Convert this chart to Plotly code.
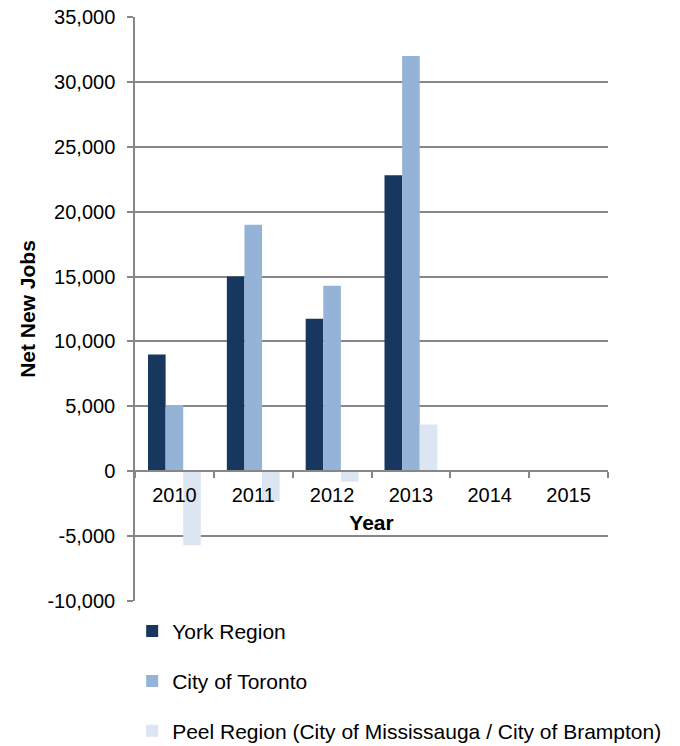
import plotly.graph_objects as go

years = ["2010", "2011", "2012", "2013", "2014", "2015"]
york = [9000, 15000, 11750, 22800, None, None]
toronto = [5100, 19000, 14300, 32000, None, None]
peel = [-5700, -2300, -800, 3600, None, None]

y_tickvals = [-10000, -5000, 0, 5000, 10000, 15000, 20000, 25000, 30000, 35000]
y_ticktext = ["-10,000", "-5,000", "0", "5,000", "10,000", "15,000", "20,000", "25,000", "30,000", "35,000"]

series = [
    ("York Region", york, "#17375E"),
    ("City of Toronto", toronto, "#95B3D7"),
    ("Peel Region (City of Mississauga / City of Brampton)", peel, "#DCE6F2"),
]

FONT = "Liberation Sans, Arial, sans-serif"
GRID = "#878787"

fig = go.Figure()
for name, vals, color in series:
    fig.add_trace(go.Bar(
        x=years, y=vals, name=name, marker=dict(color=color, line=dict(width=0)),
        legendgroup=name,
    ))

ymin, ymax = -10000, 35000
zero_pos = (0 - ymin) / (ymax - ymin)

fig.update_layout(
    width=680, height=746,
    margin=dict(l=135, r=72, t=17, b=145, autoexpand=False),
    paper_bgcolor="white", plot_bgcolor="white",
    font=dict(family=FONT, size=20, color="black"),
    barmode="group", bargap=0.33, bargroupgap=0,
    showlegend=True,
    legend=dict(
        orientation="v", x=-0.006, xanchor="left", y=-0.017, yanchor="top",
        traceorder="grouped", tracegroupgap=19.5,
        font=dict(family=FONT, size=21, color="black"),
        bgcolor="rgba(0,0,0,0)",
    ),
    xaxis=dict(
        type="category", categoryorder="array", categoryarray=years,
        anchor="free", position=zero_pos,
        showline=True, linecolor=GRID, linewidth=1.5,
        ticks="outside", tickson="boundaries", ticklen=6, tickcolor=GRID, tickwidth=1.5,
        showgrid=False, automargin=False,
        ticklabelstandoff=6,
        tickfont=dict(family=FONT, size=20, color="black"),
        title=dict(text="<b>Year</b>", font=dict(family=FONT, size=21, color="black"), standoff=9),
    ),
    yaxis=dict(
        range=[ymin, ymax], automargin=False,
        tickvals=y_tickvals, ticktext=y_ticktext,
        ticklabeloverflow="allow",
        showline=True, linecolor=GRID, linewidth=1.5,
        ticks="outside", ticklen=6, tickcolor=GRID, tickwidth=1.5,
        showgrid=True, gridcolor=GRID, gridwidth=1.5,
        zeroline=False,
        ticklabelstandoff=8,
        tickfont=dict(family=FONT, size=20, color="black"),
        title=dict(text="<b>Net New Jobs</b>", font=dict(family=FONT, size=21, color="black"), standoff=6),
    ),
)

fig.write_html(
    "out.html",
    config={"displayModeBar": False},
    post_script="document.body.style.margin='0';document.body.style.overflow='hidden';",
)
